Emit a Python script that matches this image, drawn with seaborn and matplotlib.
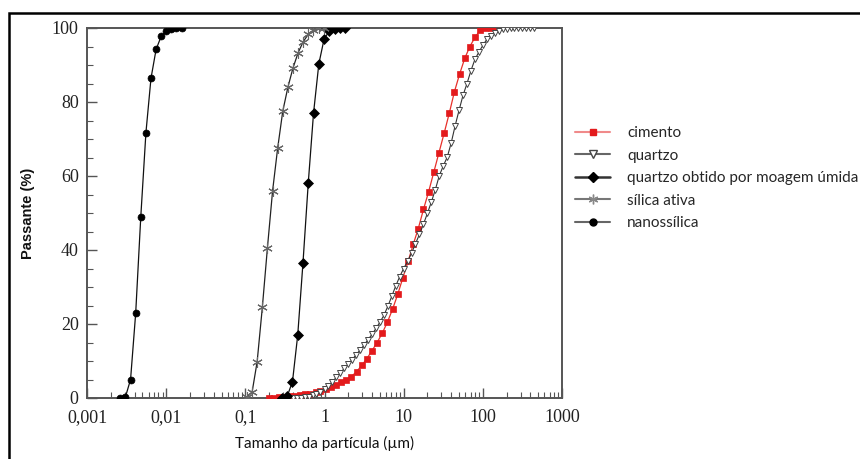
import matplotlib
matplotlib.use("Agg")
import matplotlib.pyplot as plt
import seaborn as sns
import pandas as pd
from matplotlib.ticker import FixedLocator, LogLocator, MultipleLocator, NullFormatter
from matplotlib.lines import Line2D
from matplotlib.patches import Rectangle

# ---------------- data ----------------
cim_x = [0.20, 0.23, 0.27, 0.31, 0.36, 0.42, 0.49, 0.57, 0.66, 0.77, 0.89, 1.03, 1.20, 1.39,
         1.62, 1.88, 2.18, 2.54, 2.95, 3.42, 3.98, 4.62, 5.36, 6.23, 7.24, 8.41, 9.77, 11.4,
         13.2, 15.3, 17.8, 20.7, 24.0, 27.9, 32.4, 37.7, 43.8, 50.8, 59.1, 68.6, 79.7, 92.6,
         108, 125, 145]
cim_y = [0.0, 0.1, 0.2, 0.3, 0.45, 0.6, 0.75, 0.95, 1.2, 1.5, 2.0, 2.5, 3.0, 3.6,
         4.2, 4.9, 5.8, 7.1, 8.8, 10.6, 12.8, 15.0, 17.5, 20.5, 24.0, 28.0, 32.5, 37.0,
         41.5, 45.8, 51.0, 55.8, 61.0, 66.3, 71.5, 77.0, 82.8, 87.5, 91.8, 95.0, 97.5, 99.4,
         100, 100, 100]

qtz_x = [0.40, 0.45, 0.50, 0.56, 0.63, 0.71, 0.79, 0.89, 1.00, 1.12, 1.26, 1.41, 1.58, 1.78,
         2.00, 2.24, 2.51, 2.82, 3.16, 3.55, 3.98, 4.47, 5.01, 5.62, 6.31, 7.08, 7.94, 8.91,
         10.0, 11.2, 12.6, 14.1, 15.8, 17.8, 20.0, 22.4, 25.1, 28.2, 31.6, 35.5, 39.8, 44.7,
         50.1, 56.2, 63.1, 70.8, 79.4, 89.1, 100, 112, 126, 141, 158, 178, 200, 224, 251,
         282, 316, 355, 398, 447]
qtz_y = [0.0, 0.0, 0.1, 0.2, 0.4, 0.7, 1.1, 1.7, 2.4, 3.3, 4.4, 5.6, 6.8, 8.0,
         9.2, 10.4, 11.7, 13.0, 14.3, 15.8, 17.2, 18.8, 20.5, 22.3, 24.8, 27.5, 30.3, 32.8,
         35.0, 36.9, 39.2, 41.7, 44.2, 47.0, 50.0, 53.0, 56.3, 60.1, 62.7, 65.1, 68.9, 73.6,
         77.8, 81.8, 85.0, 88.5, 91.5, 93.5, 95.3, 96.9, 97.9, 98.7, 99.2, 99.6, 99.8, 100,
         100, 100, 100, 100, 100, 100]

qmu_x = [0.29, 0.338, 0.394, 0.459, 0.535, 0.624, 0.727, 0.848, 0.988, 1.15, 1.34, 1.57, 1.83]
qmu_y = [0.1, 0.5, 4.4, 17.0, 36.6, 58.2, 77.0, 90.3, 97.0, 99.2, 99.8, 100, 100]

sil_x = [0.105, 0.122, 0.141, 0.164, 0.190, 0.221, 0.256, 0.297, 0.345, 0.400, 0.464, 0.538,
         0.624, 0.724, 0.840, 0.975]
sil_y = [0.2, 1.7, 9.8, 24.5, 40.5, 56.0, 67.5, 77.5, 84.0, 89.2, 93.3, 96.3, 98.3, 99.4,
         99.9, 100]

nan_x = [0.00264, 0.00306, 0.00355, 0.00412, 0.00478, 0.00555, 0.00643, 0.00746, 0.00866,
         0.01004, 0.01165, 0.0135, 0.0157]
nan_y = [0.1, 0.3, 5.0, 22.9, 49.0, 71.7, 86.4, 94.2, 97.8, 99.2, 99.8, 100, 100]

labels = ["cimento", "quartzo", "quartzo obtido por moagem úmida", "sílica ativa", "nanossílica"]
xtick_vals = [0.001, 0.01, 0.1, 1, 10, 100, 1000]
xtick_labels = ["0,001", "0,01", "0,1", "1", "10", "100", "1000"]
ytick_vals = [0, 20, 40, 60, 80, 100]

# ---------------- plot ----------------
sns.set_style("white")
plt.rcParams["font.family"] = ["Lato", "DejaVu Sans"]

fig = plt.figure(figsize=(8.6, 4.59), dpi=100)
ax = fig.add_axes([87 / 860, 1 - 398 / 459, 475 / 860, 370 / 459])

styles = [
    dict(x=cim_x, y=cim_y, color="#e8302a", marker="s", markersize=4.3, mfc="#e31a1c",
         mec="#e31a1c", mew=0.5, lw=0.9),
    dict(x=qtz_x, y=qtz_y, color="#333333", marker="v", markersize=5.0, mfc="white",
         mec="#444444", mew=0.7, lw=0.8),
    dict(x=qmu_x, y=qmu_y, color="#111111", marker="D", markersize=5.5, mfc="black",
         mec="black", mew=0.5, lw=0.9),
    dict(x=sil_x, y=sil_y, color="#222222", marker=(6, 2, 0), markersize=7.5, mfc="#666666",
         mec="#666666", mew=0.8, lw=0.9),
    dict(x=nan_x, y=nan_y, color="#111111", marker="o", markersize=5.0, mfc="black",
         mec="black", mew=0.5, lw=0.9),
]

for st, lab in zip(styles, labels):
    sns.lineplot(x=st["x"], y=st["y"], ax=ax, color=st["color"], marker=st["marker"],
                 markersize=st["markersize"], markerfacecolor=st["mfc"],
                 markeredgecolor=st["mec"], markeredgewidth=st["mew"], linewidth=st["lw"],
                 sort=False, legend=False, zorder=3)

ax.set_xscale("log")
ax.set_xlim(0.001, 1000)
ax.set_ylim(0, 100)

ax.xaxis.set_major_locator(FixedLocator(xtick_vals))
ax.set_xticklabels(xtick_labels)
ax.xaxis.set_minor_locator(LogLocator(base=10, subs=[2, 3, 4, 5, 6, 7, 8, 9], numticks=20))
ax.xaxis.set_minor_formatter(NullFormatter())
ax.yaxis.set_major_locator(FixedLocator(ytick_vals))
ax.yaxis.set_minor_locator(MultipleLocator(5))

ax.tick_params(axis="both", which="major", direction="in", length=7, width=1,
               color="#555555", labelsize=13, left=True, bottom=True)
ax.tick_params(axis="x", which="major", pad=8)
ax.tick_params(axis="y", which="major", pad=6)
ax.tick_params(axis="both", which="minor", direction="in", length=4, width=0.8,
               color="#555555", left=True, bottom=True)
for t in ax.get_xticklabels() + ax.get_yticklabels():
    t.set_fontfamily("Liberation Serif")
    t.set_color("#222222")

for sp in ax.spines.values():
    sp.set_color("#555555")
    sp.set_linewidth(1.4)

ax.set_xlabel("Tamanho da partícula (µm)", fontsize=11, color="#111111", labelpad=7)
ax.set_ylabel("Passante (%)", fontsize=10.5, fontweight="bold", color="#111111",
              family=["Liberation Sans", "DejaVu Sans"], labelpad=12)

# legend
handles = [
    Line2D([], [], color="#f08a8a", lw=1.5, marker="s", markersize=5, mfc="#e31a1c", mec="#e31a1c"),
    Line2D([], [], color="#666666", lw=1.5, marker="v", markersize=5.5, mfc="white", mec="#444444"),
    Line2D([], [], color="#333333", lw=1.8, marker="D", markersize=5.5, mfc="black", mec="black"),
    Line2D([], [], color="#777777", lw=1.5, marker=(6, 2, 0), markersize=7, mfc="#888888", mec="#888888"),
    Line2D([], [], color="#666666", lw=1.5, marker="o", markersize=5, mfc="black", mec="black"),
]
fig.legend(handles, labels, loc="upper left", bbox_to_anchor=(575 / 860, 1 - 126 / 459),
           frameon=False, fontsize=11, handlelength=2.3, handletextpad=1.1,
           labelspacing=0.56, borderpad=0, borderaxespad=0)

# outer frame of the picture
fig.patches.append(Rectangle((9 / 860, -0.05), 1.2, 0.05 + 1 - 13 / 459, transform=fig.transFigure,
                             fill=False, edgecolor="black", linewidth=1.8, zorder=10))

fig.savefig("out.png", dpi=100, facecolor="white")
